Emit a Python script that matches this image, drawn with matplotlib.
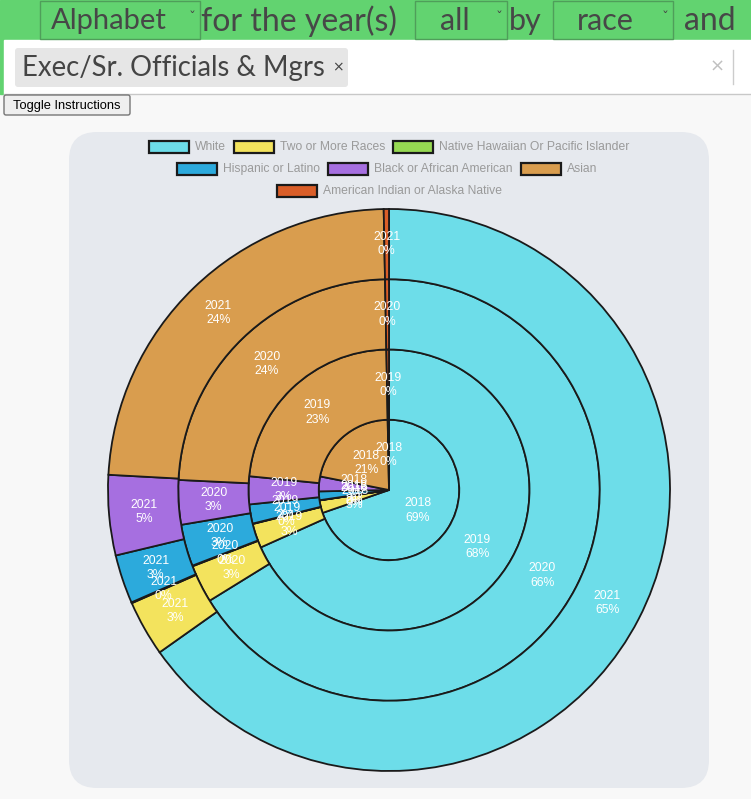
import matplotlib
matplotlib.use("Agg")
import matplotlib.pyplot as plt
from matplotlib.patches import FancyBboxPatch, Rectangle

years = ["2018", "2019", "2020", "2021"]
races = ["White", "Two or More Races", "Native Hawaiian Or Pacific Islander",
         "Hispanic or Latino", "Black or African American", "Asian",
         "American Indian or Alaska Native"]
colors = ["#6ddde9", "#f3e35d", "#96d952", "#2caadc", "#a66fe0", "#d99d4e", "#da5e28"]

# share (%) per race, same order as races
pct_2018 = [69.4, 2.9, 0.05, 2.0, 3.4, 21.5, 0.3]
pct_2019 = [68.2, 2.8, 0.05, 2.2, 3.2, 23.1, 0.3]
pct_2020 = [66.1, 2.9, 0.05, 3.2, 3.4, 23.9, 0.3]
pct_2021 = [65.1, 3.2, 0.05, 2.8, 4.6, 23.8, 0.3]
series = [pct_2018, pct_2019, pct_2020, pct_2021]

legend_rows = [[0, 1, 2], [3, 4, 5], [6]]

W, H = 751, 799
fig = plt.figure(figsize=(W / 100, H / 100), dpi=100)
fig.patch.set_facecolor("#f8f8f8")

# page-level axes in pixel coordinates
bg = fig.add_axes([0, 0, 1, 1])
bg.set_xlim(0, W)
bg.set_ylim(H, 0)
bg.axis("off")

ui_font = "Lato"
# green header bar
bg.add_patch(Rectangle((0, 0), W, 40, color="#62d370", zorder=1))
for x0, x1 in [(40, 200), (415, 507), (553, 673)]:
    bg.add_patch(Rectangle((x0, 1), x1 - x0, 38, fill=False, ec="#4f9e5a", lw=1, zorder=2))
head = [(51, "Alphabet", 21), (201, "for the year(s)", 23), (440, "all", 22),
        (509, "by", 22), (577, "race", 22), (684, "and", 23)]
for x, s, fs in head:
    bg.text(x, 21, s, fontsize=fs, color="#474747", va="center", ha="left", family=ui_font, zorder=3)
for x in [192, 499, 665]:
    bg.text(x, 18, "\u02c7", fontsize=10, color="#474747", va="center", ha="center", zorder=3)

# multi-select box
bg.add_patch(Rectangle((0, 40), 4, 54, color="#62d370", zorder=1))
bg.add_patch(Rectangle((4, 40), W - 4, 54, color="white", zorder=1))
bg.plot([4, W], [93.5, 93.5], color="#c8c8c8", lw=1, zorder=2)
bg.add_patch(FancyBboxPatch((15, 48), 333, 39, boxstyle="round,pad=0,rounding_size=3",
                            fc="#e6e6e6", ec="none", zorder=2))
bg.text(22, 68, "Exec/Sr. Officials & Mgrs", fontsize=19.8, color="#444444", va="center",
        ha="left", family=ui_font, zorder=3)
bg.text(338, 67, "\u00d7", fontsize=10, color="#444444", va="center", ha="center", zorder=3)
bg.text(717, 67, "\u00d7", fontsize=13, color="#c0c0c0", va="center", ha="center", zorder=3)
bg.plot([733, 733], [50, 84], color="#cccccc", lw=1, zorder=2)

# toggle button
bg.add_patch(FancyBboxPatch((4, 95), 126, 20, boxstyle="round,pad=0,rounding_size=2",
                            fc="#efefef", ec="#767676", lw=1, zorder=2))
bg.text(67, 105.5, "Toggle Instructions", fontsize=9.3, color="black", va="center", ha="center",
        family="Liberation Sans", zorder=3)

# chart panel
bg.add_patch(FancyBboxPatch((69, 132), 640, 656, boxstyle="round,pad=0,rounding_size=28",
                            fc="#e6e9ee", ec="none", zorder=1))

# legend (manual, three centred rows)
renderer = fig.canvas.get_renderer()
row_y = [147, 169, 191]
row_x = [149, 177, 277]
for ri, row in enumerate(legend_rows):
    x = row_x[ri]
    for i in row:
        bg.add_patch(Rectangle((x, row_y[ri] - 6), 40, 12, fc=colors[i], ec="#1a1a1a", lw=1.6, zorder=3))
        t = bg.text(x + 46, row_y[ri], races[i], fontsize=8.7, color="#9a9a9a", va="center",
                    ha="left", family="Liberation Sans", zorder=3)
        x = x + 46 + t.get_window_extent(renderer=renderer).width + 8

# concentric pies: centre (389, 490), outer radius 281 px
cx, cy, R = 389, 490, 281
pax = fig.add_axes([(cx - R) / W, (H - cy - R) / H, 2 * R / W, 2 * R / H])
pax.set_facecolor("none")
n = len(years)
for k, (yr, vals) in enumerate(zip(years, series)):
    radius = (k + 1) / n
    pdist = (radius - 0.5 / n) / radius
    wp = dict(edgecolor="#1a1a1a", linewidth=1.3)
    if k > 0:
        wp["width"] = 1 / n
    wedges, _, autotexts = pax.pie(
        vals, radius=radius, colors=colors, startangle=90, counterclock=False,
        wedgeprops=wp, autopct=lambda p, yr=yr, vals=vals: f"{yr}\n{p * sum(vals) / 100:.0f}%",
        pctdistance=pdist, normalize=True)
    for t in autotexts:
        t.set_color("white")
        t.set_fontsize(8.8)
        t.set_family("Liberation Sans")
        t.set_linespacing(1.25)
pax.set_xlim(-1, 1)
pax.set_ylim(-1, 1)
pax.set_aspect("auto")

fig.savefig("out.png", dpi=100, facecolor=fig.get_facecolor())
